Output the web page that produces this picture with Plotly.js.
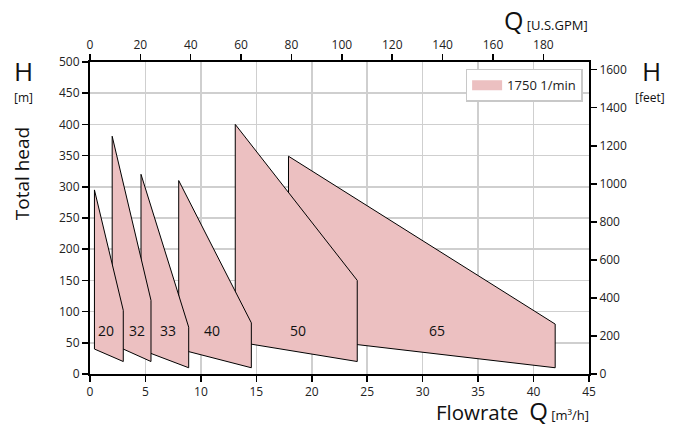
<!DOCTYPE html>
<html>
<head>
<meta charset="utf-8">
<script src="https://cdn.plot.ly/plotly-3.0.1.min.js"></script>
<style>html,body{margin:0;padding:0;background:#fff;}#chart{width:683px;height:425px;}</style>
</head>
<body>
<div id="chart"></div>
<script>
// Pump operating ranges (flow in m3/h, head in m)
const pumps        = ['20', '32', '33', '40', '50', '65'];
const qLeft        = [0.4, 2.0, 4.6, 8.0, 13.1, 17.9];
const qRight       = [3.0, 5.5, 8.9, 14.55, 24.1, 41.95];
const hTopLeft     = [295, 381, 320, 310, 400, 349];
const hTopRight    = [102, 118, 75, 82, 150, 80];
const hBottomLeft  = [40, 48, 39, 40, 52, 60];
const hBottomRight = [20, 20, 10, 10, 20, 10];
const labelQ       = [1.4, 4.2, 7.0, 11.0, 18.8, 31.3];
const labelH       = [70, 70, 70, 70, 70, 70];
const speedName    = '1750 1/min';

const M3H_PER_GPM = 0.2271247;
const M_PER_FT = 0.3048;
const X_MAX = 45, Y_MAX = 500;

const FILL = '#ecc0c1';
const FONT = 'Open Sans, Noto Sans, sans-serif';

const traces = [];
for (let i = pumps.length - 1; i >= 0; i--) {
  traces.push({
    type: 'scatter', mode: 'lines',
    x: [qLeft[i], qRight[i], qRight[i], qLeft[i], qLeft[i]],
    y: [hTopLeft[i], hTopRight[i], hBottomRight[i], hBottomLeft[i], hTopLeft[i]],
    fill: 'toself', fillcolor: FILL,
    line: {color: '#000', width: 1},
    name: pumps[i], legendgroup: 'speed', showlegend: false, hoverinfo: 'skip'
  });
}
// legend entry
traces.push({
  type: 'scatter', mode: 'lines', x: [null], y: [null],
  line: {color: FILL, width: 10}, name: speedName, legendgroup: 'speed',
  showlegend: true, hoverinfo: 'skip'
});
// secondary axes carrier
traces.push({
  type: 'scatter', mode: 'lines', x: [null], y: [null], xaxis: 'x2', yaxis: 'y2',
  showlegend: false, hoverinfo: 'skip'
});

const annotations = pumps.map((p, i) => ({
  x: labelQ[i], y: labelH[i], xref: 'x', yref: 'y', text: p, showarrow: false,
  xanchor: 'center', yanchor: 'middle',
  font: {size: 14, color: '#111', family: FONT}
}));

const W = 499.5, H = 312.3, L = 90, T = 61.7;
const px = v => (v - L) / W;
const py = v => (T + H - v) / H;
function note(x, y, text, size, extra) {
  return Object.assign({xref: 'paper', yref: 'paper', x: px(x), y: py(y), text: text,
    showarrow: false, xanchor: 'center', yanchor: 'middle',
    font: {size: size, family: FONT, color: '#111'}}, extra || {});
}
annotations.push(
  note(23, 71, 'H', 26),
  note(23, 97, '[m]', 12),
  note(22, 174, 'Total head', 19, {textangle: -90}),
  note(652, 71, 'H', 26),
  note(651, 97, '[feet]', 12),
  note(591, 20, 'Q<span style="font-size:13px">\u00a0[U.S.GPM]</span>', 25, {xanchor: 'right'}),
  note(592, 411, 'Flowrate\u00a0\u00a0<span style="font-size:24px">Q</span><span style="font-size:13px">\u00a0[m³/h]</span>', 20.5, {xanchor: 'right'})
);

const axisCommon = {
  showline: true, linecolor: '#000', linewidth: 2,
  ticks: 'outside', ticklen: 6, tickwidth: 1.5, tickcolor: '#000',
  tickfont: {size: 12, family: FONT, color: '#222'},
  zeroline: false, fixedrange: true
};

const layout = {
  width: 683, height: 425,
  margin: {l: L, r: 683 - L - W, t: T, b: 425 - T - H, pad: 0},
  paper_bgcolor: '#fff', plot_bgcolor: '#fff',
  font: {family: FONT},
  showlegend: true,
  legend: {x: px(466), y: py(68.5), xanchor: 'left', yanchor: 'top',
           bgcolor: '#fff', bordercolor: '#c8c8c8', borderwidth: 1.5,
           font: {size: 13, family: FONT, color: '#222'}},
  xaxis: Object.assign({}, axisCommon, {
    range: [0, X_MAX], dtick: 5, tick0: 0,
    showgrid: true, gridcolor: '#cfcfcf', gridwidth: 1.5
  }),
  yaxis: Object.assign({}, axisCommon, {
    range: [0, Y_MAX], dtick: 50, tick0: 0,
    showgrid: true, gridcolor: '#cfcfcf', gridwidth: 1.5
  }),
  xaxis2: Object.assign({}, axisCommon, {
    overlaying: 'x', side: 'top', anchor: 'y',
    range: [0, X_MAX / M3H_PER_GPM], dtick: 20, tick0: 0, showgrid: false
  }),
  yaxis2: Object.assign({}, axisCommon, {
    overlaying: 'y', side: 'right', anchor: 'x',
    range: [0, Y_MAX / M_PER_FT], dtick: 200, tick0: 0, showgrid: false
  }),
  annotations: annotations
};

Plotly.newPlot('chart', traces, layout, {staticPlot: true, displayModeBar: false});
</script>
</body>
</html>
